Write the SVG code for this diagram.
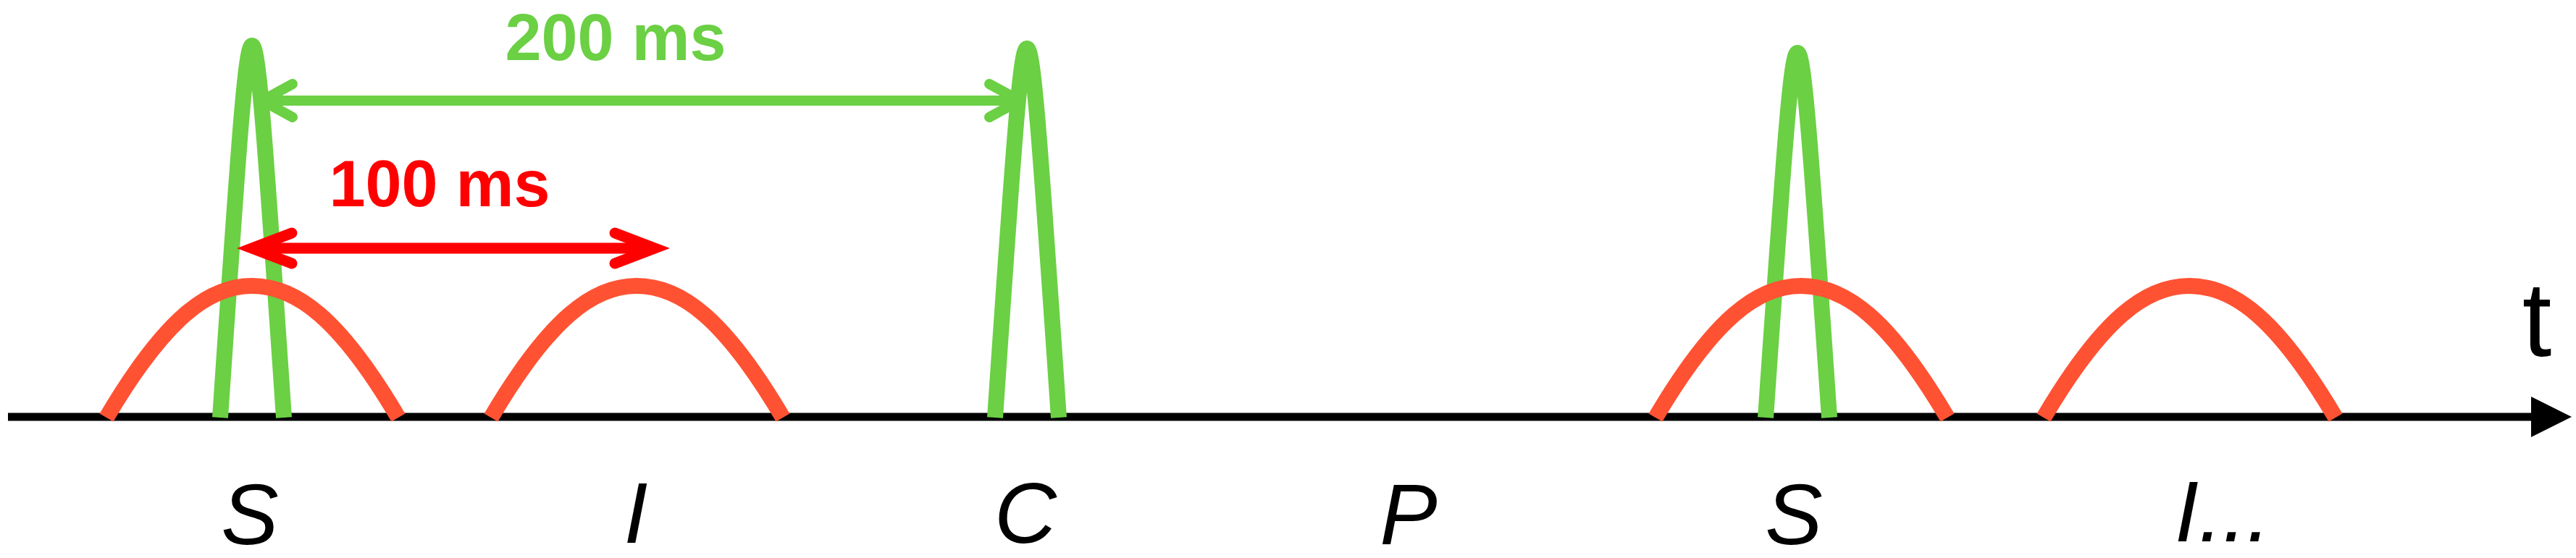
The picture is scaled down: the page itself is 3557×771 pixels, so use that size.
<svg xmlns="http://www.w3.org/2000/svg" width="3557" height="771" viewBox="0 0 3557 771">
  <style>
    .spike { fill: none; stroke: #6BD044; stroke-width: 22; stroke-linecap: butt; stroke-linejoin: round; }
    .hump { fill: none; stroke: #FF5233; stroke-width: 22; stroke-linecap: butt; }
    .garrow { fill: none; stroke: #6BD044; stroke-width: 14; stroke-linecap: round; stroke-linejoin: round; }
    .rarrow { fill: none; stroke: #FF0000; stroke-width: 15; stroke-linecap: round; stroke-linejoin: miter; stroke-miterlimit: 6; }
    .lbl { font-family: 'Liberation Sans', Arial, sans-serif; font-style: italic; font-size: 119px; fill: #000; text-anchor: middle; }
    .dur { font-family: 'Liberation Sans', Arial, sans-serif; font-weight: bold; font-size: 90px; text-anchor: middle; }
  </style>
  <rect width="3557" height="771" fill="#ffffff"/>
  <g id="axis">
    <path d="M11,576 H3500" stroke="#000" stroke-width="11" fill="none"/>
    <polygon points="3495,548 3551,576 3495,604" fill="#000"/>
    <text x="3503" y="492" font-family="'Liberation Sans', Arial, sans-serif" font-size="146" text-anchor="middle" fill="#000">t</text>
  </g>
  <g id="spikes">
    <path id="spike-1" class="spike" d="M304,577 C330,192 339,63 348,63 C357,63 366,192 392,577"/>
    <path id="spike-2" class="spike" d="M1374,577 C1400,194 1409,67 1418,67 C1427,67 1436,194 1462,577"/>
    <path id="spike-3" class="spike" d="M2438,577 C2464,199 2473,73 2482,73 C2491,73 2500,199 2526,577"/>
  </g>
  <g id="connectors">
    <g id="arrow-200">
      <path class="garrow" d="M362,139 H1408"/>
      <path class="garrow" d="M404,116 L362,139 L404,162"/>
      <path class="garrow" d="M1366,116 L1408,139 L1366,162"/>
    </g>
  </g>
  <g id="humps">
    <path id="hump-1" class="hump" d="M147,577 C228,440 288,395 348,395 C409,395 469,440 550,577"/>
    <path id="hump-2" class="hump" d="M678,577 C759,440 819,395 879,395 C940,395 1000,440 1081,577"/>
    <path id="hump-3" class="hump" d="M2286,577 C2367,440 2427,395 2487,395 C2548,395 2608,440 2689,577"/>
    <path id="hump-4" class="hump" d="M2822,577 C2903,440 2963,395 3023,395 C3084,395 3144,440 3225,577"/>
  </g>
  <g id="connectors-red">
    <g id="arrow-100">
      <path class="rarrow" d="M350,343 H902"/>
      <path class="rarrow" d="M403,322 L348,343 L403,364"/>
      <path class="rarrow" d="M849,322 L904,343 L849,364"/>
    </g>
  </g>
  <g id="label-200ms"><text class="dur" x="850" y="83" fill="#6BD044">200 ms</text></g>
  <g id="label-100ms"><text class="dur" x="607" y="285" fill="#FF0000">100 ms</text></g>
  <g id="labels">
    <g id="label-S1"><text class="lbl" x="345" y="752">S</text></g>
    <g id="label-I1"><text class="lbl" x="878" y="750">I</text></g>
    <g id="label-C"><text class="lbl" x="1416" y="750">C</text></g>
    <g id="label-P"><text class="lbl" x="1945" y="752">P</text></g>
    <g id="label-S2"><text class="lbl" x="2477" y="752">S</text></g>
    <g id="label-I2"><text class="lbl" x="3003" y="748" style="text-anchor:start">I...</text></g>
  </g>
</svg>
